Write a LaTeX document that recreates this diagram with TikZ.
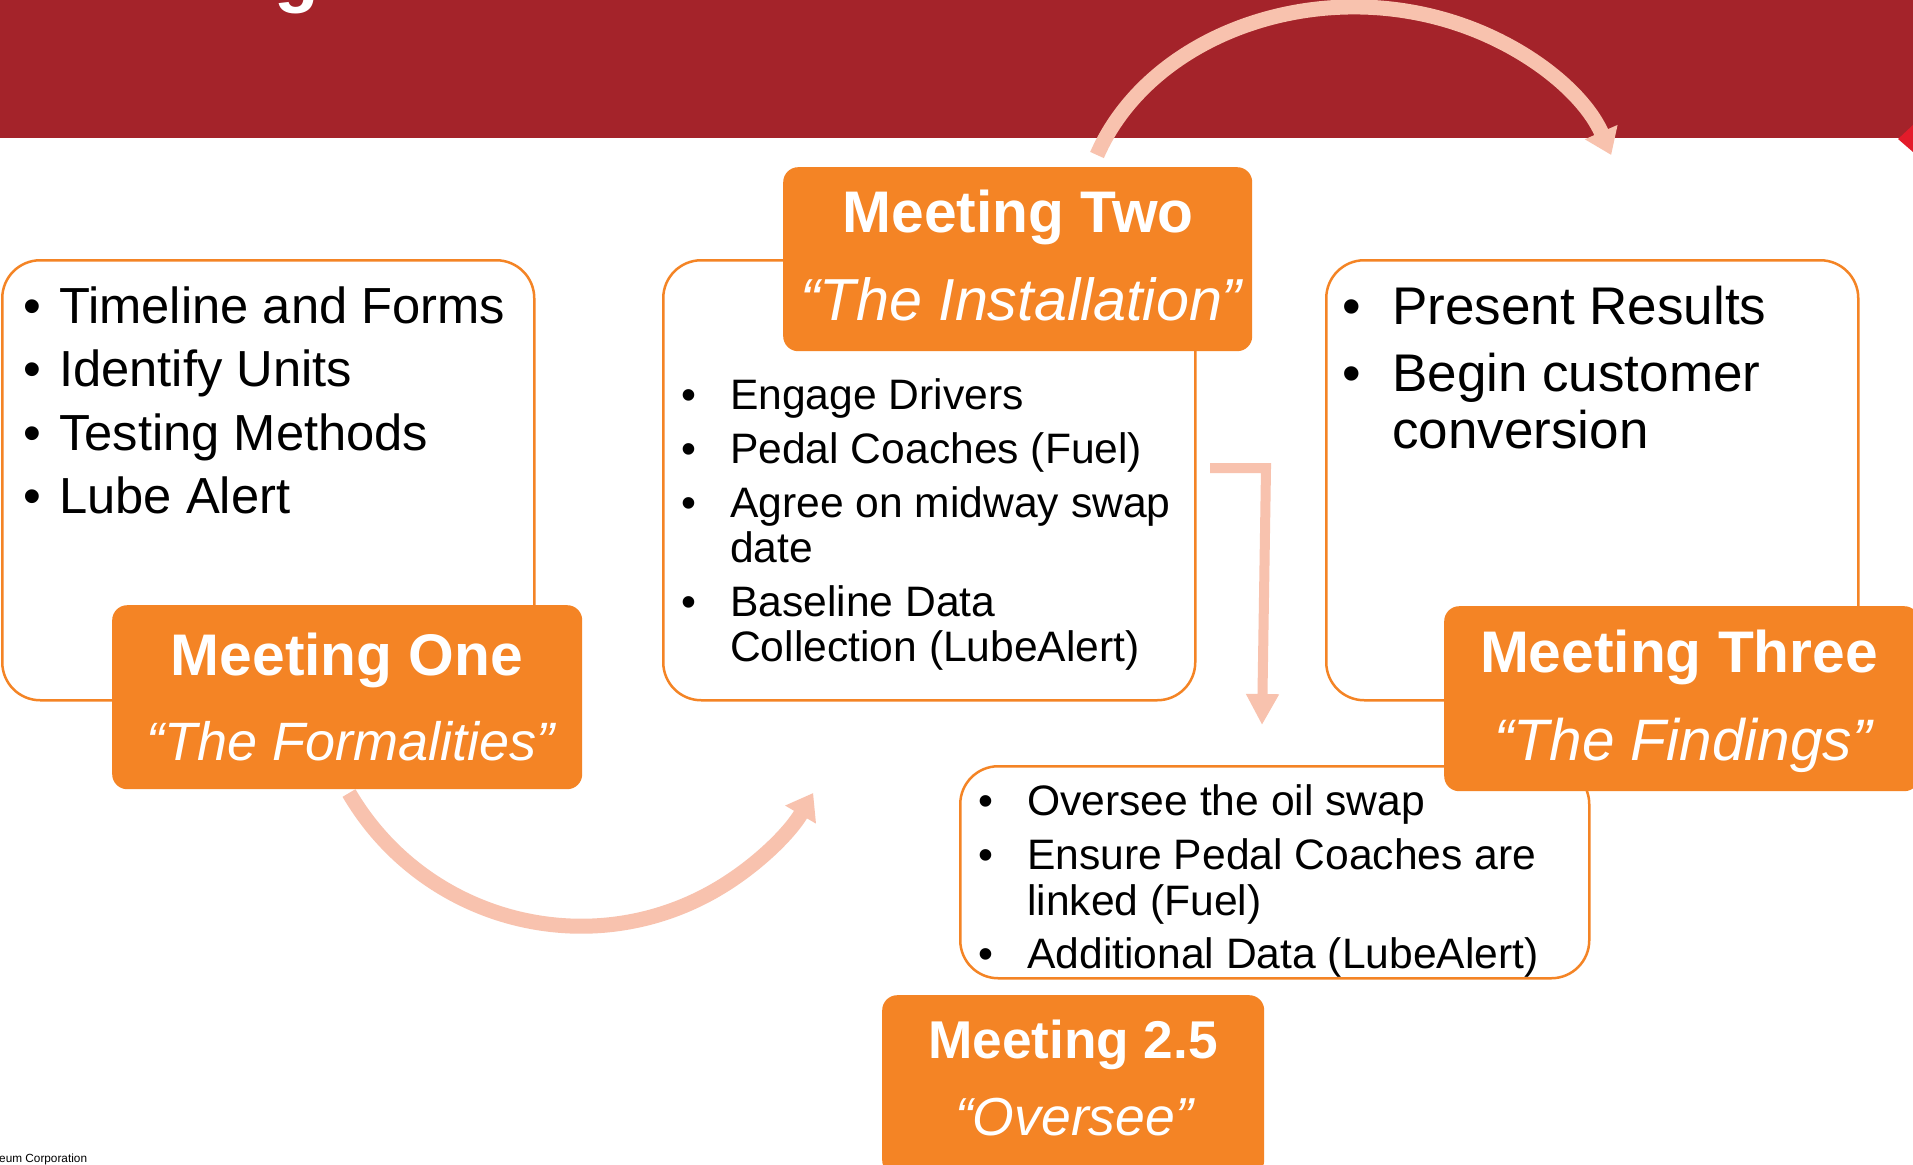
\documentclass[tikz,border=0pt]{standalone}
\usepackage{fontspec}
\setmainfont{Liberation Sans}
\usetikzlibrary{arrows.meta}
\definecolor{bannerred}{HTML}{A4232A}
\definecolor{orng}{HTML}{F48425}
\definecolor{salmon}{HTML}{F8C2AE}
\definecolor{brightred}{HTML}{E31B2A}
\tikzset{
 outbox/.style={draw=orng, line width=2.5pt, rounded corners=38pt, fill=white, inner sep=0pt, anchor=north west},
 hdrbox/.style={fill=orng, rounded corners=15pt, inner sep=0pt, anchor=north west},
 bigtxt/.style={anchor=base west, inner sep=0pt, text=black, font=\fontsize{50.7}{60}\selectfont},
 bigbul/.style={anchor=base, inner sep=0pt, text=black, font=\fontsize{50.7}{60}\selectfont},
 midtxt/.style={anchor=base west, inner sep=0pt, text=black, font=\fontsize{42.6}{50}\selectfont},
 midbul/.style={anchor=base, inner sep=0pt, text=black, font=\fontsize{42.6}{50}\selectfont},
 r3txt/.style={anchor=base west, inner sep=0pt, text=black, font=\fontsize{53}{60}\selectfont},
 r3bul/.style={anchor=base, inner sep=0pt, text=black, font=\fontsize{53}{60}\selectfont},
 hdrtitle/.style={anchor=base, inner sep=0pt, text=white, font=\fontsize{58.7}{60}\selectfont\bfseries},
 hdrsub/.style={anchor=base, inner sep=0pt, text=white},
 flow/.style={draw=salmon, line width=15pt, -{Triangle[width=34pt,length=25pt]}},
 flowL/.style={draw=salmon, line width=10pt, line join=miter, -{Triangle[width=31pt,length=31pt]}},
}
\begin{document}
\begin{tikzpicture}[x=1pt,y=-1pt]
\useasboundingbox (0,0) rectangle (1913,1164);
\fill[white] (0,0) rectangle (1913,1164);
% banner
\fill[bannerred] (0,0) rectangle (1913,138);
\fill[brightred] (1898,139) -- (1913,125) -- (1913,152) -- cycle;
\node[anchor=base, inner sep=0pt, text=white, font=\fontsize{73}{75}\selectfont\bfseries] (ttl) at (297,-1) {g};

% outline boxes
\node[outbox, minimum width=532pt, minimum height=440pt] (box1) at (1,259) {};
\node[outbox, minimum width=532pt, minimum height=440pt] (box2) at (662,259) {};
\node[outbox, minimum width=532pt, minimum height=440pt] (box3) at (1325,259) {};
\node[outbox, minimum width=629pt, minimum height=212pt] (box25) at (959,765) {};

% header boxes
\node[hdrbox, minimum width=470pt, minimum height=184pt] (m1) at (112,605) {};
\node[hdrbox, minimum width=469pt, minimum height=184pt] (m2) at (783,167) {};
\node[hdrbox, minimum width=475pt, minimum height=185pt] (m3) at (1444,606) {};
\node[hdrbox, minimum width=382pt, minimum height=180pt] (m25) at (882,995) {};

% header texts
\node[hdrtitle] (m1t) at (347,675.5) {Meeting One};
\node[hdrsub, font=\fontsize{54}{60}\selectfont\itshape] (m1s) at (351,760) {“The Formalities”};
\node[hdrtitle] (m2t) at (1018,232.5) {Meeting Two};
\node[hdrsub, font=\fontsize{59.3}{60}\selectfont\itshape] (m2s) at (1021,320.5) {“The Installation”};
\node[hdrtitle] (m3t) at (1679,672) {Meeting Three};
\node[hdrsub, font=\fontsize{58.5}{60}\selectfont\itshape] (m3s) at (1683,760) {“The Findings”};
\node[hdrtitle, font=\fontsize{53.2}{60}\selectfont\bfseries] (m25t) at (1073,1058) {Meeting 2.5};
\node[hdrsub, font=\fontsize{53.5}{60}\selectfont\itshape] (m25s) at (1074,1135) {“Oversee”};

% box 1 text
\node[bigbul] (b1a) at (32,323) {•};
\node[bigtxt] (t1a) at (59,323) {Timeline and Forms};
\node[bigbul] (b1b) at (32,386.5) {•};
\node[bigtxt] (t1b) at (59,386.5) {Identify Units};
\node[bigbul] (b1c) at (32,450) {•};
\node[bigtxt] (t1c) at (59,450) {Testing Methods};
\node[bigbul] (b1d) at (32,513.5) {•};
\node[bigtxt] (t1d) at (59,513.5) {Lube Alert};

% box 2 text
\node[midbul] (b2a) at (689,409) {•};
\node[midtxt] (t2a) at (730,409) {Engage Drivers};
\node[midbul] (b2b) at (689,463) {•};
\node[midtxt] (t2b) at (730,463) {Pedal Coaches (Fuel)};
\node[midbul] (b2c) at (689,517) {•};
\node[midtxt] (t2c) at (730,517) {Agree on midway swap};
\node[midtxt] (t2c2) at (730,562) {date};
\node[midbul] (b2d) at (689,616) {•};
\node[midtxt] (t2d) at (730,616) {Baseline Data};
\node[midtxt] (t2d2) at (730,661) {Collection (LubeAlert)};

% box 3 text
\node[r3bul] (b3a) at (1352,324) {•};
\node[r3txt] (t3a) at (1392,324) {Present Results};
\node[r3bul] (b3b) at (1352,391) {•};
\node[r3txt] (t3b) at (1392,391) {Begin customer};
\node[r3txt] (t3b2) at (1392,448) {conversion};

% box 2.5 text
\node[midbul] (b4a) at (986,815) {•};
\node[midtxt] (t4a) at (1027,815) {Oversee the oil swap};
\node[midbul] (b4b) at (986,869) {•};
\node[midtxt] (t4b) at (1027,869) {Ensure Pedal Coaches are};
\node[midtxt] (t4b2) at (1027,915) {linked (Fuel)};
\node[midbul] (b4c) at (986,968) {•};
\node[midtxt] (t4c) at (1027,968) {Additional Data (LubeAlert)};

% footer
\node[anchor=base west, inner sep=0pt, text=black, font=\fontsize{11.8}{14}\selectfont] (foot) at (-1,1162) {eum Corporation};

% arrows
\coordinate (a1s) at (349,793);
\draw[flow] (a1s) arc[start angle=149.7, end angle=30.3, radius=268.8];
\coordinate (a2s) at (1097,155);
\draw[flow] (a2s) arc[start angle=199.65, end angle=340.35, x radius=273, y radius=223];
\coordinate (a3s) at (1210,468);
\coordinate (a3c) at (1266,468);
\coordinate (a3e) at (1262,725);
\draw[flowL] (a3s) -- (a3c) -- (a3e);
\end{tikzpicture}
\end{document}
